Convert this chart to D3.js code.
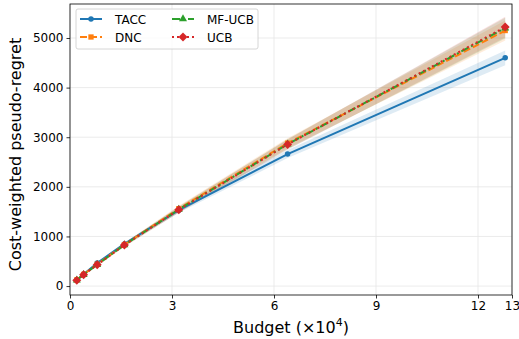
<!DOCTYPE html>
<html>
<head>
<meta charset="utf-8">
<script src="https://cdn.jsdelivr.net/npm/d3@7"></script>
<style>
  body { margin: 0; background: #fff; }
  svg { font-family: "DejaVu Sans", sans-serif; }
</style>
</head>
<body>
<svg id="chart" width="519" height="339"></svg>
<script>
// budgets in units of 1e4
var budgets = [0.2, 0.4, 0.8, 1.6, 3.2, 6.4, 12.8];
var taccVals = [120, 240, 465, 850, 1530, 2660, 4600];
var dncVals = [125, 235, 440, 835, 1560, 2880, 5150];
var mfucbVals = [118, 232, 432, 830, 1545, 2860, 5200];
var ucbVals = [115, 228, 428, 828, 1540, 2855, 5220];
// half widths of the shaded spread
var taccSpread = [8, 12, 20, 30, 50, 80, 150];
var dncSpread = [8, 12, 22, 35, 60, 100, 200];
var mfucbSpread = [8, 12, 22, 35, 60, 100, 210];
var ucbSpread = [8, 12, 22, 35, 60, 100, 210];
var xTicks = [0, 3, 6, 9, 12, 13];
var yTicks = [0, 1000, 2000, 3000, 4000, 5000];

var series = [
  {name: "TACC", vals: taccVals, spread: taccSpread, color: "#1f77b4", dash: null, marker: "circle"},
  {name: "DNC", vals: dncVals, spread: dncSpread, color: "#ff7f0e", dash: "7,3", marker: "square"},
  {name: "MF-UCB", vals: mfucbVals, spread: mfucbSpread, color: "#2ca02c", dash: "8,3,2,3", marker: "triangle"},
  {name: "UCB", vals: ucbVals, spread: ucbSpread, color: "#d62728", dash: "2,3", marker: "diamond"}
];

var svg = d3.select("#chart");
var mLeft = 70, mRight = 512, mTop = 4, mBottom = 295;

var x = d3.scaleLinear().domain([0, 13]).range([mLeft, mRight]);
var y = d3.scaleLinear().domain([-180, 5685]).range([mBottom, mTop]);

// grid
svg.append("g").selectAll("line").data(xTicks).enter().append("line")
  .attr("x1", d => x(d)).attr("x2", d => x(d)).attr("y1", mTop).attr("y2", mBottom)
  .attr("stroke", "#e6e6e6").attr("stroke-width", 0.8);
svg.append("g").selectAll("line").data(yTicks).enter().append("line")
  .attr("y1", d => y(d)).attr("y2", d => y(d)).attr("x1", mLeft).attr("x2", mRight)
  .attr("stroke", "#e6e6e6").attr("stroke-width", 0.8);

// bands
var area = d3.area()
  .x((d, i) => x(budgets[i]))
  .y0(d => y(d[0])).y1(d => y(d[1]));
series.forEach(function(s){
  var pts = s.vals.map((v, i) => [v - s.spread[i], v + s.spread[i]]);
  svg.append("path").datum(pts).attr("d", area)
    .attr("fill", s.color).attr("fill-opacity", 0.15);
});

var line = d3.line().x((d, i) => x(budgets[i])).y(d => y(d));

// matplotlib style "D" marker: a square turned by 45 degrees
var fatDiamond = {
  draw: function(ctx, size){
    var r = Math.sqrt(size / 2);
    ctx.moveTo(0, -r); ctx.lineTo(r, 0); ctx.lineTo(0, r); ctx.lineTo(-r, 0); ctx.closePath();
  }
};
var symbolFor = {
  circle: d3.symbol().type(d3.symbolCircle).size(24),
  square: d3.symbol().type(d3.symbolSquare).size(28),
  triangle: d3.symbol().type(d3.symbolTriangle).size(28),
  diamond: d3.symbol().type(fatDiamond).size(40)
};

series.forEach(function(s){
  svg.append("path").datum(s.vals).attr("d", line)
    .attr("fill", "none").attr("stroke", s.color).attr("stroke-width", 2)
    .attr("stroke-dasharray", s.dash);
  svg.append("g").selectAll("path").data(s.vals).enter().append("path")
    .attr("d", symbolFor[s.marker])
    .attr("transform", (d, i) => "translate(" + x(budgets[i]) + "," + y(d) + ")")
    .attr("fill", s.color);
});

// spines
svg.append("rect").attr("x", mLeft).attr("y", mTop).attr("width", mRight - mLeft).attr("height", mBottom - mTop)
  .attr("fill", "none").attr("stroke", "#000").attr("stroke-width", 0.8);

// axes
var xAxis = svg.append("g").attr("transform", "translate(0," + mBottom + ")")
  .call(d3.axisBottom(x).tickValues(xTicks).tickFormat(d3.format("d")).tickSize(3.5).tickPadding(3));
var yAxis = svg.append("g").attr("transform", "translate(" + mLeft + ",0)")
  .call(d3.axisLeft(y).tickValues(yTicks).tickFormat(d3.format("d")).tickSize(3.5).tickPadding(3));
[xAxis, yAxis].forEach(function(a){
  a.select(".domain").remove();
  a.selectAll("text").attr("font-size", 12).attr("fill", "#000").attr("font-family", "DejaVu Sans");
  a.selectAll("line").attr("stroke-width", 0.8);
});

// labels
var xl = svg.append("text").attr("x", (mLeft + mRight) / 2).attr("y", 333)
  .attr("text-anchor", "middle").attr("font-size", 16);
xl.append("tspan").text("Budget (\u00d710");
xl.append("tspan").attr("font-size", 11).attr("dy", -7).text("4");
xl.append("tspan").attr("dy", 7).text(")");

svg.append("text").attr("transform", "translate(21," + ((mTop + mBottom) / 2 + 5) + ") rotate(-90)")
  .attr("text-anchor", "middle").attr("font-size", 16).text("Cost-weighted pseudo-regret");

// legend
var lg = svg.append("g").attr("transform", "translate(76,9)");
lg.append("rect").attr("width", 182).attr("height", 40).attr("rx", 2)
  .attr("fill", "#fff").attr("fill-opacity", 0.8).attr("stroke", "#ccc").attr("stroke-width", 0.8);
series.forEach(function(s, i){
  var col = Math.floor(i / 2), row = i % 2;
  var gx = 4 + col * 92, gy = 10 + row * 18;
  var g = lg.append("g").attr("transform", "translate(" + gx + "," + gy + ")");
  g.append("line").attr("x1", 0).attr("x2", 22).attr("y1", 0).attr("y2", 0)
    .attr("stroke", s.color).attr("stroke-width", 2).attr("stroke-dasharray", s.dash);
  g.append("path").attr("d", symbolFor[s.marker]).attr("transform", "translate(11,0)").attr("fill", s.color);
  g.append("text").attr("x", 35).attr("y", 4.5).attr("font-size", 12).text(s.name);
});
</script>
</body>
</html>
